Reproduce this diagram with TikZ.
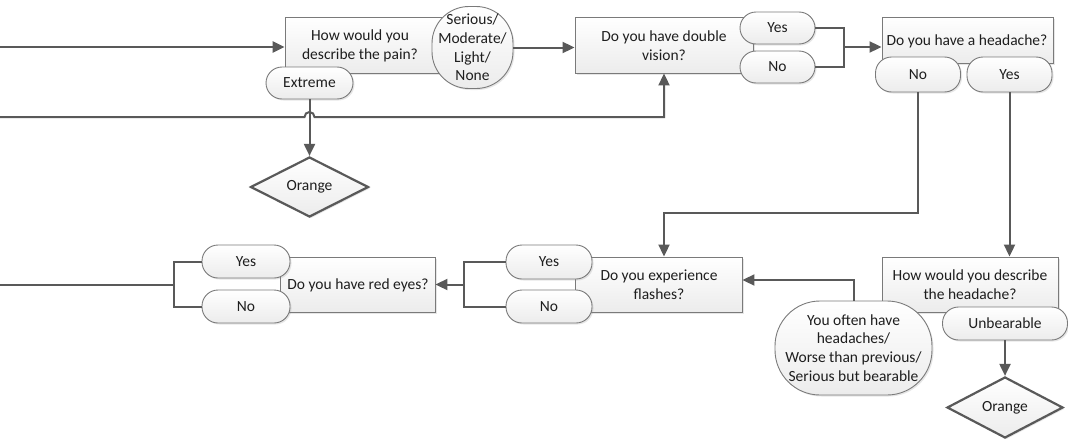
\documentclass[tikz,border=0pt]{standalone}
\usepackage{fontspec}
\setmainfont{Carlito}
\usetikzlibrary{arrows.meta,shapes.geometric,shadows}
\definecolor{linegray}{HTML}{595959}
\definecolor{edgegray}{HTML}{7A7A7A}
\definecolor{textgray}{HTML}{1E1E1E}
\tikzset{
  every node/.style={font=\fontsize{15.5}{18.7}\selectfont, text=textgray},
  shaded/.style={draw=edgegray, line width=0.9pt, top color=white, bottom color=gray!15,
    drop shadow={opacity=0.2, shadow xshift=1.5pt, shadow yshift=-1.5pt}},
  qbox/.style={shaded, rectangle, inner sep=0pt},
  pill/.style={shaded, rectangle, rounded corners=16pt, inner sep=0pt},
  decision/.style={diamond, draw=linegray, line width=2.2pt, top color=white, bottom color=gray!15,
    drop shadow={opacity=0.2, shadow xshift=1.5pt, shadow yshift=-1.5pt}, inner sep=0pt},
  conn/.style={draw=linegray, line width=2pt},
  arr/.style={conn, -{Triangle[length=12pt,width=11pt]}},
  feed/.style={arr, line width=2.6pt}
}
\begin{document}
\begin{tikzpicture}[x=1pt,y=-1pt]
\useasboundingbox (0,0) rectangle (1068,439);

% question boxes
\node[qbox, minimum width=185pt, minimum height=56pt] (pain)   at (377.5,45)  {};
\node[qbox, minimum width=178pt, minimum height=56pt] (double) at (664,45)    {};
\node[qbox, minimum width=171pt, minimum height=46pt] (head)   at (967.5,40)  {};
\node[qbox, minimum width=167pt, minimum height=55pt] (flash)  at (658.5,284.5) {};
\node[qbox, minimum width=155pt, minimum height=55pt] (red)    at (357.5,284.5) {};
\node[qbox, minimum width=176pt, minimum height=55pt] (desc)   at (970,284.5) {};

% question texts
\node[align=center] (painq)   at (360,46)    {How would you\\describe the pain?};
\node[align=center] (doubleq) at (664,46)    {Do you have double\\vision?};
\node               (headq)   at (967,41)    {Do you have a headache?};
\node[align=center] (flashq)  at (659,285)   {Do you experience\\flashes?};
\node               (redq)    at (358,285)   {Do you have red eyes?};
\node[align=center] (descq)   at (970,285)   {How would you describe\\the headache?};

% answers
\node[pill, rounded corners=37pt, minimum width=81pt, minimum height=82pt, align=center]
  (serious) at (472.5,47.5) {Serious/\\Moderate/\\Light/\\None};
\node[pill, minimum width=87pt, minimum height=32pt] (extreme) at (309.5,83) {Extreme};
\node[pill, minimum width=75pt, minimum height=32pt] (dyes) at (777.5,28) {Yes};
\node[pill, minimum width=75pt, minimum height=32pt] (dno)  at (777.5,67) {No};
\node[pill, minimum width=85pt, minimum height=35pt] (hno)  at (918,74.5) {No};
\node[pill, minimum width=85pt, minimum height=35pt] (hyes) at (1009.5,74.5) {Yes};
\node[pill, minimum width=86pt, minimum height=34pt] (fyes) at (549,262) {Yes};
\node[pill, minimum width=86pt, minimum height=33pt] (fno)  at (549,306.5) {No};
\node[pill, minimum width=88pt, minimum height=33pt] (ryes) at (246,261.5) {Yes};
\node[pill, minimum width=88pt, minimum height=33pt] (rno)  at (246,306.5) {No};
\node[pill, minimum width=125pt, minimum height=33pt] (unb) at (1005,323.5) {Unbearable};
\node[pill, rounded corners=45pt, minimum width=157pt, minimum height=94pt, align=center]
  (often) at (853.5,348) {You often have\\headaches/\\Worse than previous/\\Serious but bearable};

% outcomes
\node[decision, minimum width=118pt, minimum height=60pt] (orange1) at (309.5,187) {Orange};
\node[decision, minimum width=116pt, minimum height=61pt] (orange2) at (1005,407.5) {Orange};

% connectors
\coordinate (in1) at (0,47);
\coordinate (in2) at (0,117);
\coordinate (hop) at (309.5,117);
\draw[feed] (in1) -- (in1 -| pain.west);
\draw[arr] (in2) -- ([xshift=-5pt]hop) arc[start angle=180, end angle=0, radius=5pt]
  -- (hop -| double.south) -- (double.south);
\draw[arr] (serious.east) -- (serious.east -| double.west);
\draw[arr] (extreme.south) -- (orange1.north);

\coordinate (j1) at (844,47);
\draw[conn] (dyes.east) -| (j1);
\draw[conn] (dno.east) -| (j1);
\draw[arr] (j1) -- (j1 -| head.west);

\coordinate (j2) at (664,213);
\draw[arr] (hno.south) |- (j2) -- (j2 |- flash.north);
\draw[arr] (hyes.south) -- (hyes.south |- desc.north);
\draw[arr] (often.north) |- ([yshift=4.5pt]flash.east);
\draw[arr] (unb.south) -- (orange2.north);

\coordinate (j3) at (464,284.5);
\draw[conn] (fyes.west) -| (j3);
\draw[conn] (fno.west) -| (j3);
\draw[arr] (j3) -- (j3 -| red.east);

\coordinate (j4) at (174,284.5);
\coordinate (out) at (0,284.5);
\draw[conn] (ryes.west) -| (j4);
\draw[conn] (rno.west) -| (j4);
\draw[conn] (j4) -- (out);
\end{tikzpicture}
\end{document}
